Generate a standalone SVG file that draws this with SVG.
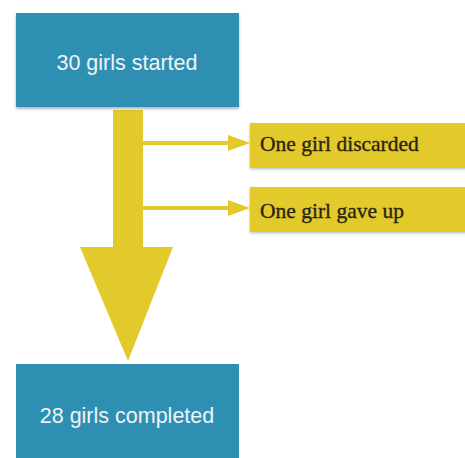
<svg xmlns="http://www.w3.org/2000/svg" width="465" height="458" viewBox="0 0 465 458">
<defs>
<style>
.blue{fill:#2E8FB2;}
.yel{fill:#E2CA2C;}
.bt{font-family:"Liberation Sans",Arial,sans-serif;font-size:21.5px;fill:#EEF4F6;text-anchor:middle;}
.yt{font-family:"Liberation Serif","Times New Roman",serif;font-size:21.5px;fill:#2A2410;stroke:#2A2410;stroke-width:0.35;}
.ln{stroke:#E2CA2C;stroke-width:4;fill:none;}
</style>
<filter id="sh" x="-10%" y="-10%" width="130%" height="140%">
<feDropShadow dx="0" dy="2" stdDeviation="1.5" flood-color="#000" flood-opacity="0.3"/>
</filter>
</defs>
<rect width="465" height="458" fill="#ffffff"/>
<g id="connectors">
<path class="yel" d="M113,110 H143 V247 H173 L128,361 L80,247 H113 Z"/>
<line class="ln" x1="143" y1="143" x2="230" y2="143"/>
<polygon class="yel" points="228,135 250,143 228,151"/>
<line class="ln" x1="143" y1="208" x2="230" y2="208"/>
<polygon class="yel" points="228,200 250,208 228,216"/>
</g>
<g id="start">
<rect class="blue" x="16" y="13" width="223" height="94" filter="url(#sh)"/>
<text class="bt" x="127" y="70">30 girls started</text>
</g>
<g id="discarded">
<rect class="yel" x="250" y="123" width="220" height="44" filter="url(#sh)"/>
<text class="yt" x="260" y="151">One girl discarded</text>
</g>
<g id="gaveup">
<rect class="yel" x="250" y="187" width="220" height="44" filter="url(#sh)"/>
<text class="yt" x="260" y="218">One girl gave up</text>
</g>
<g id="completed">
<rect class="blue" x="16" y="364" width="223" height="100"/>
<text class="bt" x="127" y="423">28 girls completed</text>
</g>
</svg>
